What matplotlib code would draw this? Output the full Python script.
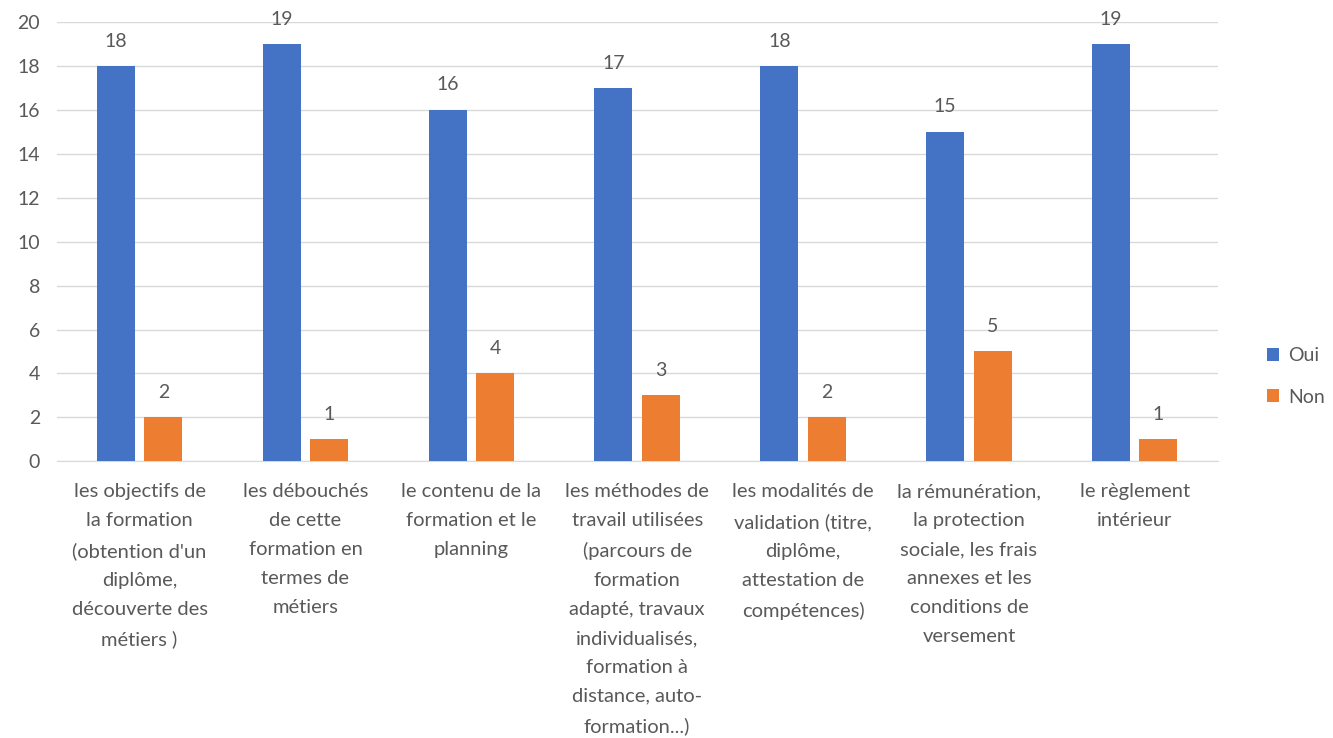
import numpy as np
import matplotlib.pyplot as plt

## Data
categories = [
    "les objectifs de\nla formation\n(obtention d'un\ndiplôme,\ndécouverte des\nmétiers )",
    "les débouchés\nde cette\nformation en\ntermes de\nmétiers",
    "le contenu de la\nformation et le\nplanning",
    "les méthodes de\ntravail utilisées\n(parcours de\nformation\nadapté, travaux\nindividualisés,\nformation à\ndistance, auto-\nformation...)",
    "les modalités de\nvalidation (titre,\ndiplôme,\nattestation de\ncompétences)",
    "la rémunération,\nla protection\nsociale, les frais\nannexes et les\nconditions de\nversement",
    "le règlement\nintérieur",
]
oui = [18, 19, 16, 17, 18, 15, 19]
non = [2, 1, 4, 3, 2, 5, 1]

plt.rcParams['font.family'] = ['Lato', 'DejaVu Sans']
text_color = '#595959'

fig = plt.figure(figsize=(13.33, 7.38), dpi=100)
ax = fig.add_axes([0.0425, 0.375, 0.871, 0.595])

x = np.arange(len(categories))
w = 0.229
gap = 0.057
b1 = ax.bar(x - (w + gap) / 2, oui, w, color='#4472C4', label='Oui', zorder=3)
b2 = ax.bar(x + (w + gap) / 2, non, w, color='#ED7D31', label='Non', zorder=3)

for bars in (b1, b2):
    for rect in bars:
        ax.annotate(f"{int(rect.get_height())}",
                    (rect.get_x() + rect.get_width() / 2, rect.get_height()),
                    xytext=(0, 18), textcoords='offset points',
                    ha='center', va='center', fontsize=14, color=text_color)

ax.set_xlim(-0.5, len(categories) - 0.5)
ax.set_ylim(0, 20)
ax.set_yticks(range(0, 21, 2))
ax.set_xticks(x)
ax.set_xticklabels(categories, fontsize=14.5, color=text_color, linespacing=1.85)
ax.tick_params(axis='y', length=0, labelsize=14, labelcolor=text_color, pad=12)
ax.tick_params(axis='x', length=0, labelcolor=text_color, pad=16)

ax.yaxis.grid(True, color='#d9d9d9', linewidth=1, zorder=0)
for side in ['top', 'right', 'left']:
    ax.spines[side].set_visible(False)
ax.spines['bottom'].set_color('#d9d9d9')

fig.legend(handles=[b1, b2], loc='center left', bbox_to_anchor=(0.937, 0.49),
           frameon=False, fontsize=14, labelcolor=text_color,
           handlelength=0.65, handleheight=0.65, handletextpad=0.45,
           labelspacing=1.25)

plt.savefig('out.png', dpi=100)
plt.close()
